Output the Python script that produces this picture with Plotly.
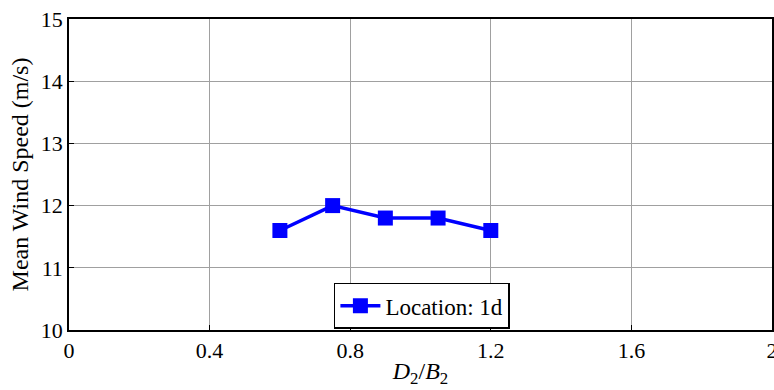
import plotly.graph_objects as go

x_vals = [0.6, 0.75, 0.9, 1.05, 1.2]
y_vals = [11.6, 12.0, 11.8, 11.8, 11.6]
series_name = "Location: 1d"
x_ticks = [0, 0.4, 0.8, 1.2, 1.6, 2]
x_ticklabels = ["0", "0.4", "0.8", "1.2", "1.6", "2"]
y_ticks = [10, 11, 12, 13, 14, 15]

FONT = "Liberation Serif, Times New Roman, serif"

fig = go.Figure()
fig.add_trace(go.Scatter(
    x=x_vals, y=y_vals, mode="lines+markers", name=series_name,
    line=dict(color="#0000ff", width=3.5),
    marker=dict(symbol="square", size=15, color="#0000ff"),
))

axis_common = dict(
    showline=True, linecolor="black", linewidth=1.5, mirror=True,
    showgrid=True, gridcolor="#a0a0a0", gridwidth=1,
    ticks="inside", ticklen=5, tickcolor="black",
    zeroline=False, ticklabeloverflow="allow",
    tickfont=dict(family=FONT, size=22, color="black"),
)

fig.update_layout(
    width=774, height=390,
    margin=dict(l=69, r=2, t=19, b=60, autoexpand=False),
    paper_bgcolor="white", plot_bgcolor="white",
    font=dict(family=FONT, color="black"),
    xaxis=dict(range=[0, 2], tickvals=x_ticks, ticktext=x_ticklabels,
               title=dict(text="<i>D</i><sub>2</sub>/<i>B</i><sub>2</sub>",
                          font=dict(family=FONT, size=24), standoff=0),
               **axis_common),
    yaxis=dict(range=[10, 15], tickvals=y_ticks,
               title=dict(text="Mean Wind Speed (m/s)",
                          font=dict(family=FONT, size=24), standoff=5),
               **axis_common),
    showlegend=True,
    legend=dict(x=0.502, y=0.004, xanchor="center", yanchor="bottom",
                bgcolor="white", bordercolor="black", borderwidth=1.5,
                font=dict(family=FONT, size=23),
                itemwidth=40, tracegroupgap=0),
)

fig.write_html("out.html", config={"displayModeBar": False},
               post_script="document.body.style.margin='0';document.body.style.overflow='hidden';")
